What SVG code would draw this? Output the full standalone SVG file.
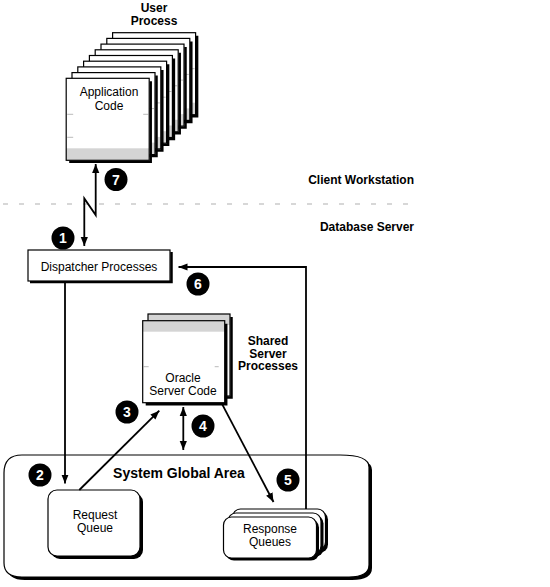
<svg xmlns="http://www.w3.org/2000/svg" xmlns:xlink="http://www.w3.org/1999/xlink" width="550" height="587" viewBox="0 0 550 587">
<style>
  .lbl { font-family: "Liberation Sans", Arial, sans-serif; font-size: 12px; fill: #000; text-anchor: middle; }
  .bold { font-weight: bold; }
  .zone { font-family: "Liberation Sans", Arial, sans-serif; font-size: 12px; font-weight: bold; fill: #000; text-anchor: end; }
  .num { font-family: "Liberation Sans", Arial, sans-serif; font-size: 14px; font-weight: bold; fill: #fff; text-anchor: middle; }
  .conn { fill: none; stroke: #000; stroke-width: 1.8; }
  .box { fill: #fff; stroke: #000; stroke-width: 1.2; }
  .shadow { fill: none; stroke: #000; stroke-width: 2.5; }
  .tick { stroke: #bbb; stroke-width: 1; }
</style>
<defs>
  <marker id="ah" viewBox="0 0 10 8" refX="10" refY="4" markerWidth="9" markerHeight="8" markerUnits="userSpaceOnUse" orient="auto-start-reverse">
    <path d="M0,0 L10,4 L0,8 z" fill="#000"/>
  </marker>
  <g id="page">
    <path class="shadow" d="M3,83.5 H84.5 V3"/>
    <rect x="0" y="0" width="83" height="82" fill="#fff"/>
    <rect x="0" y="70" width="83" height="12" fill="#d4d4d4"/>
    <line class="tick" x1="1" y1="36" x2="7" y2="36"/>
    <line class="tick" x1="1" y1="59" x2="7" y2="59"/>
    <line class="tick" x1="77" y1="36" x2="82" y2="36"/>
    <rect x="0" y="0" width="83" height="82" fill="none" stroke="#000" stroke-width="1.2"/>
  </g>
  <g id="opage">
    <path class="shadow" d="M3,83.5 H83.5 V3"/>
    <rect x="0" y="0" width="82" height="82" fill="#fff"/>
    <rect x="0" y="0" width="82" height="11" fill="#d4d4d4"/>
    <line class="tick" x1="1" y1="46" x2="6" y2="46"/>
    <line class="tick" x1="72" y1="46" x2="76" y2="46"/>
    <rect x="0" y="0" width="82" height="82" fill="none" stroke="#000" stroke-width="1.2"/>
  </g>
  <g id="rq">
    <rect x="2.5" y="2.5" width="93" height="41" rx="8" fill="#000"/>
    <rect x="0" y="0" width="93" height="41" rx="8" class="box"/>
  </g>
  <g id="badge">
    <circle cx="0" cy="0" r="11.5" fill="#000"/>
  </g>
</defs>

<!-- separator and zone labels -->
<g id="zones">
  <line x1="3" y1="204" x2="418" y2="204" stroke="#b0b0b0" stroke-width="1.2" stroke-dasharray="5 11"/>
  <text class="zone" x="414" y="184">Client Workstation</text>
  <text class="zone" x="414" y="231">Database Server</text>
</g>

<!-- User process -->
<g id="user-process">
  <text class="lbl bold" x="154" y="11.5">User</text>
  <text class="lbl bold" x="154" y="25">Process</text>
  <use xlink:href="#page" x="112.6" y="32.7"/>
  <use xlink:href="#page" x="106.8" y="38.4"/>
  <use xlink:href="#page" x="101" y="44.1"/>
  <use xlink:href="#page" x="95.2" y="49.8"/>
  <use xlink:href="#page" x="89.4" y="55.5"/>
  <use xlink:href="#page" x="83.6" y="61.2"/>
  <use xlink:href="#page" x="77.8" y="66.9"/>
  <use xlink:href="#page" x="72" y="72.6"/>
  <use xlink:href="#page" x="66.2" y="78.3"/>
  <text class="lbl" x="109" y="96">Application</text>
  <text class="lbl" x="109" y="110">Code</text>
</g>

<!-- Dispatcher -->
<g id="dispatcher">
  <path class="shadow" d="M30,282 H171.5 V252" stroke-width="2"/>
  <rect x="28" y="250" width="142" height="31" class="box"/>
  <text class="lbl" x="99" y="271">Dispatcher Processes</text>
</g>

<!-- Shared server processes -->
<g id="shared-server">
  <use xlink:href="#opage" x="148" y="314"/>
  <use xlink:href="#opage" x="142.7" y="320.7"/>
  <text class="lbl" x="183" y="382">Oracle</text>
  <text class="lbl" x="183" y="394.5">Server Code</text>
  <text class="lbl bold" x="268" y="345">Shared</text>
  <text class="lbl bold" x="268" y="357.5">Server</text>
  <text class="lbl bold" x="268" y="370">Processes</text>
</g>

<!-- SGA -->
<g id="sga">
  <path d="M7,476 Q7,458 25,458 H343 Q372,458 372,470 V568 Q372,580 352,580 H25 Q7,580 7,566 Z" fill="#000"/>
  <path d="M4,473 Q4,455 22,455 H340 Q369,455 369,467 V565 Q369,577 349,577 H22 Q4,577 4,563 Z" class="box" stroke-width="1.4"/>
  <text class="lbl bold" x="179" y="478" style="font-size:14px">System Global Area</text>
</g>

<g id="request-queue">
  <rect x="51" y="493" width="92" height="66" rx="9" fill="#000"/>
  <rect x="48" y="490" width="92" height="66" rx="9" class="box"/>
  <text class="lbl" x="95" y="519">Request</text>
  <text class="lbl" x="95" y="531.5">Queue</text>
</g>

<g id="response-queues">
  <use xlink:href="#rq" x="232.5" y="509"/>
  <use xlink:href="#rq" x="228" y="513"/>
  <use xlink:href="#rq" x="223.5" y="517"/>
  <text class="lbl" x="270" y="533">Response</text>
  <text class="lbl" x="270" y="545.5">Queues</text>
</g>

<!-- connectors -->
<g id="connectors">
  <path class="conn" d="M84.3,246 V198.5 L95.7,215 V164" marker-start="url(#ah)" marker-end="url(#ah)"/>
  <path class="conn" d="M65,282 V483.5" marker-end="url(#ah)"/>
  <path class="conn" d="M79.3,490 L159.3,410.7" marker-end="url(#ah)"/>
  <path class="conn" d="M183.3,407 V450" marker-start="url(#ah)" marker-end="url(#ah)"/>
  <path class="conn" d="M221.7,403.3 L273.5,502" marker-end="url(#ah)"/>
  <path class="conn" d="M306,509 V267 H178.5" marker-end="url(#ah)"/>
</g>

<!-- step badges -->
<g id="badges">
  <g id="step1"><use xlink:href="#badge" x="63" y="238"/><text class="num" x="63" y="243">1</text></g>
  <g id="step2"><use xlink:href="#badge" x="40" y="475"/><text class="num" x="40" y="480">2</text></g>
  <g id="step3"><use xlink:href="#badge" x="127" y="412"/><text class="num" x="127" y="417">3</text></g>
  <g id="step4"><use xlink:href="#badge" x="203" y="426"/><text class="num" x="203" y="431">4</text></g>
  <g id="step5"><use xlink:href="#badge" x="288" y="480"/><text class="num" x="288" y="485">5</text></g>
  <g id="step6"><use xlink:href="#badge" x="198" y="284"/><text class="num" x="198" y="289">6</text></g>
  <g id="step7"><use xlink:href="#badge" x="116" y="179.5"/><text class="num" x="116" y="184.5">7</text></g>
</g>
</svg>
